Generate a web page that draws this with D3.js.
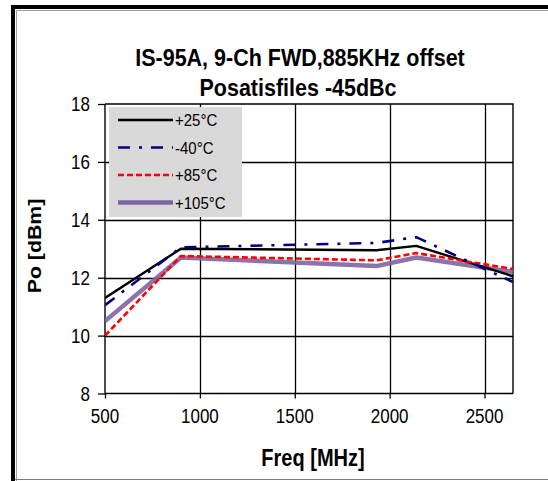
<!DOCTYPE html>
<html>
<head>
<meta charset="utf-8">
<script src="https://cdn.jsdelivr.net/npm/d3@7"></script>
<style>
  html, body { margin: 0; padding: 0; background: #fff; }
  svg { display: block; }
  text { font-family: "Liberation Sans", Arial, sans-serif; fill: #000; }
</style>
</head>
<body>
<svg id="chart" width="548" height="481"></svg>
<script>
// ---- data ----
const titleLines = ["IS-95A,  9-Ch FWD,885KHz offset", "Posatisfiles -45dBc"];
const xLabel = "Freq [MHz]";
const yLabel = "Po [dBm]";
const freq = [500, 900, 1930, 2140, 2650];
const p25  = [11.3, 13.0, 12.95, 13.1, 12.05];
const m40  = [11.05, 13.05, 13.2, 13.4, 11.85];
const p85  = [10.0, 12.75, 12.6, 12.85, 12.3];
const p105 = [10.5, 12.7, 12.4, 12.7, 12.2];
const seriesNames = ["+25°C", "-40°C", "+85°C", "+105°C"];
const xTicks = [500, 1000, 1500, 2000, 2500];
const yTicks = [8, 10, 12, 14, 16, 18];

const seriesValues = [p25, m40, p85, p105];
const styles = [
  {color: "#000000", width: 2.4, dash: null},
  {color: "#000080", width: 2.6, dash: "12,9,3,9"},
  {color: "#ff0000", width: 2.6, dash: "6,3"},
  {color: "#8064a2", width: 4.5, dash: null}
];
const drawOrder = [3, 0, 2, 1];

const svg = d3.select("#chart");
const SY = 1.15; // vertical stretch of the text

function stretchedText(g, x, y, str, opts) {
  const t = g.append("text")
    .attr("transform", `translate(${x},${y}) scale(1,${SY})`)
    .attr("font-size", opts.size)
    .attr("font-weight", opts.bold ? "bold" : "normal")
    .attr("text-anchor", opts.anchor || "start")
    .text(str);
  return t;
}

// outer frame
svg.append("path").attr("d", "M13,481V7H548").attr("fill", "none").attr("stroke", "#000").attr("stroke-width", 4);
svg.append("path").attr("d", "M16.5,481V10.5H548").attr("fill", "none").attr("stroke", "#a0a0a0").attr("stroke-width", 1);
svg.append("line").attr("x1", 15).attr("x2", 548).attr("y1", 479.5).attr("y2", 479.5).attr("stroke", "#808080").attr("stroke-width", 1);

const L = 105, R = 513, T = 104, B = 393.5;
const x = d3.scaleLinear().domain([500, 2650]).range([L, R]);
const y = d3.scaleLinear().domain([8, 18]).range([B, T]);

// title
stretchedText(svg, 300, 66, titleLines[0], {size: 21.5, bold: true, anchor: "middle"});
stretchedText(svg, 298, 96, titleLines[1], {size: 21.5, bold: true, anchor: "middle"});

// gridlines
const grid = svg.append("g");
grid.selectAll(".vg").data(xTicks.slice(1)).join("line")
  .attr("x1", d => Math.round(x(d)) + 0.5).attr("x2", d => Math.round(x(d)) + 0.5)
  .attr("y1", T).attr("y2", B).attr("stroke", "#000").attr("stroke-width", 1.3);
grid.selectAll(".hg").data(yTicks.slice(1, -1)).join("line")
  .attr("y1", d => Math.round(y(d)) + 0.5).attr("y2", d => Math.round(y(d)) + 0.5)
  .attr("x1", L).attr("x2", R).attr("stroke", "#000").attr("stroke-width", 1.3);
// plot border top/right
svg.append("path").attr("d", `M${L},${T}H${R}V${B}`).attr("fill", "none").attr("stroke", "#000").attr("stroke-width", 1.4);

// axes
const xAxis = d3.axisBottom(x).tickValues(xTicks).tickSize(5).tickFormat(d3.format("d"));
const gx = svg.append("g").attr("transform", `translate(0,${B})`).call(xAxis);
gx.select(".domain").attr("stroke", "#000").attr("stroke-width", 1.4).attr("d", `M${L},0H${R}`);
gx.selectAll(".tick line").attr("stroke", "#000").attr("stroke-width", 1.3);
gx.selectAll(".tick text").remove();
xTicks.forEach(v => stretchedText(svg, x(v), 423, String(v), {size: 17, anchor: "middle"}));

const yAxis = d3.axisLeft(y).tickValues(yTicks).tickSize(7).tickFormat(d3.format("d"));
const gy = svg.append("g").attr("transform", `translate(${L},0)`).call(yAxis);
gy.select(".domain").attr("stroke", "#000").attr("stroke-width", 1.4).attr("d", `M0,${T}V${B}`);
gy.selectAll(".tick line").attr("stroke", "#000").attr("stroke-width", 1.3);
gy.selectAll(".tick text").remove();
yTicks.forEach(v => stretchedText(svg, 90, y(v) + 7, String(v), {size: 17, anchor: "end"}));

// axis titles
stretchedText(svg, 313, 466, xLabel, {size: 20, bold: true, anchor: "middle"});
svg.append("text")
  .attr("transform", `translate(41,246) rotate(-90) scale(${SY},1)`)
  .attr("font-size", 18.5).attr("font-weight", "bold").attr("text-anchor", "middle")
  .text(yLabel);

// lines
const line = d3.line().x((d, i) => x(freq[i])).y(d => y(d));
const clipId = "plotclip";
svg.append("clipPath").attr("id", clipId).append("rect").attr("x", L).attr("y", T - 5).attr("width", R - L + 2).attr("height", B - T + 10);
const lg = svg.append("g").attr("clip-path", `url(#${clipId})`);
drawOrder.forEach(i => {
  const st = styles[i];
  lg.append("path").datum(seriesValues[i])
    .attr("d", line)
    .attr("fill", "none")
    .attr("stroke", st.color)
    .attr("stroke-width", st.width)
    .attr("stroke-dasharray", st.dash)
    .attr("stroke-linejoin", "round")
    .attr("opacity", i === 3 ? 0.9 : 1);
});

// legend
const leg = svg.append("g");
leg.append("rect").attr("x", 109).attr("y", 107).attr("width", 133).attr("height", 110).attr("fill", "#d9d9d9");
seriesNames.forEach((name, i) => {
  const yy = 120 + i * 27.5;
  const st = styles[i];
  leg.append("line").attr("x1", 118).attr("x2", 173).attr("y1", yy).attr("y2", yy)
    .attr("stroke", st.color).attr("stroke-width", st.width).attr("stroke-dasharray", st.dash);
  stretchedText(leg, 175, yy + 6, name, {size: 15});
});
</script>
</body>
</html>
